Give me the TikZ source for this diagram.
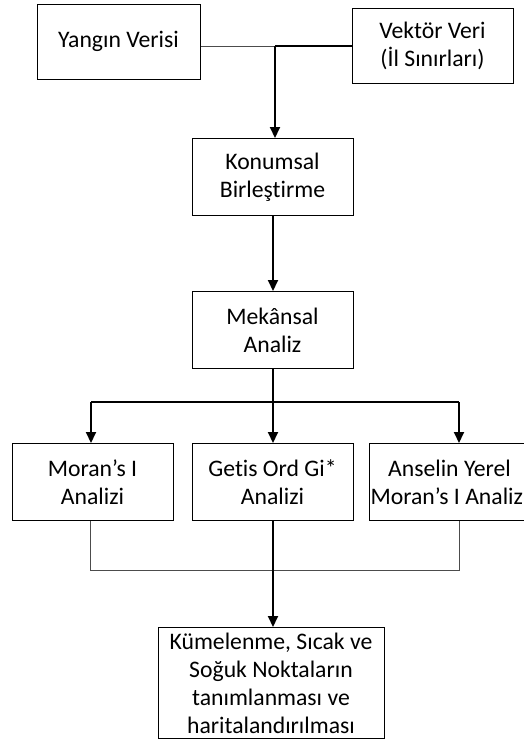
\documentclass[tikz,border=0pt]{standalone}
\usepackage{fontspec}
\setmainfont[Ligatures=NoCommon]{Carlito}
\usetikzlibrary{arrows.meta}
\begin{document}
\begin{tikzpicture}[x=1pt,y=-1pt,
  box/.style={draw,line width=1pt,rectangle,align=center,inner sep=0pt,
    font=\fontsize{23.7}{28}\selectfont,minimum width=161pt,minimum height=77pt},
  thin/.style={draw=black!70,line width=1pt},
  thick/.style={draw,line width=2pt},
  arr/.style={thick,-{Triangle[width=10pt,length=11pt]}}]
\useasboundingbox (0,0) rectangle (523,740);
\node[box,minimum width=163pt,minimum height=75pt] (yv) at (118.5,41.5) {Yangın Verisi};
\node[box,minimum height=75pt] (vv) at (432.5,46) {Vektör Veri\\(İl Sınırları)};
\node[box] (kb) at (272.5,177) {Konumsal\\Birleştirme};
\node[box] (ma) at (272.5,330) {Mekânsal\\Analiz};
\node[box] (mi) at (92.5,482) {Moran’s I\\Analizi};
\node[box] (go) at (272.5,482) {Getis Ord Gi*\\Analizi};
\node[box,minimum width=171pt] (an) at (454.5,482) {\hspace*{-10pt}Anselin Yerel\\\hspace*{-10pt}Moran’s I Analizi};
\node[box,minimum width=226pt,minimum height=111pt] (kn) at (271,683) {Kümelenme, Sıcak ve\\Soğuk Noktaların\\tanımlanması ve\\haritalandırılması};
\coordinate (jt) at (275,46);
\coordinate (jl) at (91,402);
\coordinate (jm) at (273,402);
\coordinate (jr) at (459,402);
\coordinate (bl) at (90,570);
\coordinate (br) at (459,570);
\draw[thin] (yv.east |- jt) -- (jt);
\draw[thick] (jt) -- (vv.west |- jt);
\draw[arr] (jt) -- (jt |- kb.north);
\draw[arr] (kb.south -| jm) -- (ma.north -| jm);
\draw[thick] (ma.south -| jm) -- (jm);
\draw[thick] (jl) -- (jr);
\draw[arr] (jl) -- (jl |- mi.north);
\draw[arr] (jm) -- (jm |- go.north);
\draw[arr] (jr) -- (jr |- an.north);
\draw[thin] (mi.south -| bl) -- (bl) -- (br) -- (br |- an.south);
\draw[arr] (go.south -| jm) -- (jm |- kn.north);
\end{tikzpicture}
\end{document}
